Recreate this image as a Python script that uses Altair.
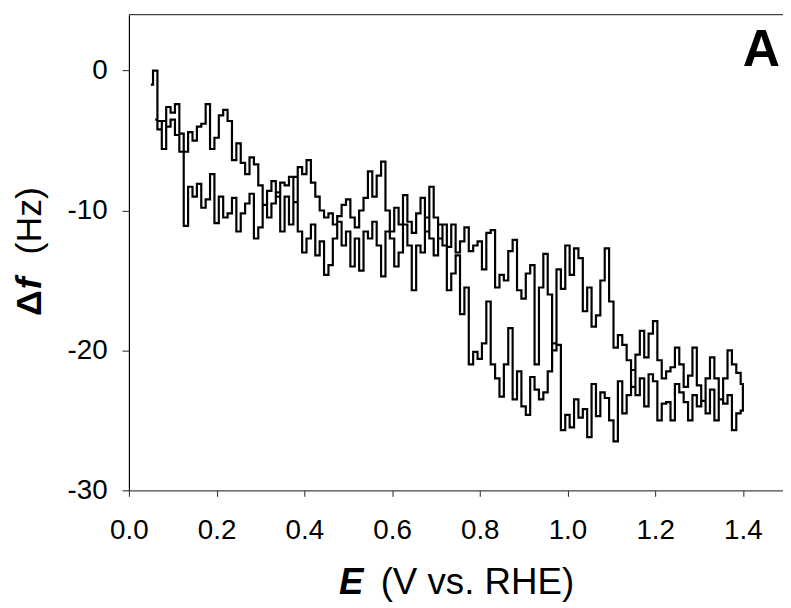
import altair as alt
import pandas as pd

# ---------------- data ----------------
# forward sweep (upper-left -> upper-middle -> lower-right), E = 0.05 ... 1.40 V, step 0.01 V
E_START_FWD = 0.05
E_STEP = 0.01
df_forward = [
    -1.0, 0.0, -3.6, -5.6, -2.6, -3.0, -2.4, -4.5, -5.8, -4.4,
    -5.0, -4.0, -3.8, -2.4, -5.6, -4.8, -3.2, -2.8, -3.6, -6.4,
    -5.2, -6.6, -7.4, -6.2, -6.7, -8.2, -9.6, -8.6, -7.9, -9.0,
    -8.0, -8.2, -7.6, -9.4, -6.9, -7.4, -6.4, -8.0, -9.0, -10.0,
    -10.5, -10.2, -11.0, -10.4, -9.6, -9.2, -10.5, -11.2, -10.0, -9.1,
    -7.2, -9.0, -7.5, -6.5, -10.0, -11.5, -9.8, -11.0, -8.9, -10.8,
    -11.6, -10.2, -9.1, -11.5, -8.3, -10.5, -12.0, -11.0, -12.6, -11.0,
    -13.0, -12.2, -11.2, -12.9, -12.5, -12.2, -14.2, -11.6, -11.4, -15.5,
    -14.6, -15.0, -12.9, -12.1, -15.7, -16.3, -14.5, -13.9, -21.0, -15.5,
    -13.1, -16.0, -20.0, -19.6, -25.7, -24.6, -25.5, -23.5, -24.8, -24.2,
    -26.2, -22.4, -24.7, -23.0, -23.4, -25.0, -26.5, -22.2, -24.5, -23.2,
    -21.4, -23.2, -22.0, -24.0, -21.7, -22.2, -25.0, -23.8, -23.7, -25.0,
    -22.4, -23.0, -23.7, -25.0, -23.2, -24.0, -23.6, -24.5, -22.8, -25.0,
    -23.5, -23.8, -23.2, -25.7, -24.5, -24.3,
]
# reverse sweep, listed for E = 0.06 ... 1.40 V (drawn from 1.40 back to 0.06)
E_START_REV = 0.06
df_reverse = [
    -3.5, -4.2, -3.6, -4.0, -3.5, -4.6, -5.8, -11.1, -8.3, -9.0,
    -8.1, -9.8, -9.2, -7.4, -10.9, -9.0, -10.5, -10.2, -9.1, -11.5,
    -10.2, -9.5, -8.8, -12.0, -11.2, -9.6, -10.5, -9.5, -8.7, -11.5,
    -9.0, -11.0, -7.6, -11.5, -13.0, -12.0, -11.0, -13.2, -12.2, -14.6,
    -13.9, -12.0, -10.8, -12.5, -11.5, -14.0, -12.0, -14.3, -11.5, -12.0,
    -10.8, -12.5, -14.7, -11.5, -12.0, -14.0, -13.0, -11.0, -12.5, -15.7,
    -12.5, -13.0, -10.5, -12.0, -13.2, -11.0, -12.5, -15.7, -14.5, -13.2,
    -17.4, -15.5, -21.0, -20.1, -20.6, -19.5, -16.5, -21.0, -22.0, -23.3,
    -21.0, -18.4, -23.5, -21.5, -24.0, -24.6, -21.9, -22.8, -23.5, -23.0,
    -21.5, -19.5, -14.2, -15.6, -12.5, -14.6, -12.7, -13.4, -17.2, -15.5,
    -18.3, -17.5, -15.0, -12.7, -16.5, -19.8, -18.9, -19.6, -20.7, -22.6,
    -20.3, -18.6, -20.5, -18.8, -17.9, -20.7, -22.0, -21.5, -21.2, -19.8,
    -21.0, -22.6, -21.8, -19.8, -22.5, -23.6, -22.0, -20.5, -22.0, -23.5,
    -22.0, -20.0, -21.0, -21.6, -22.4,
]

X_TICKS = [0.0, 0.2, 0.4, 0.6, 0.8, 1.0, 1.2, 1.4]
Y_TICKS = [-30, -20, -10, 0]
X_DOMAIN = [0.0, 1.4915]
Y_DOMAIN = [-30, 4]

# ---------------- table ----------------
rows = []
for i, v in enumerate(df_forward):
    rows.append({"E": round(E_START_FWD + i * E_STEP, 3), "df": v, "k": len(rows)})
for i in range(len(df_reverse) - 1, -1, -1):
    rows.append({"E": round(E_START_REV + i * E_STEP, 3), "df": df_reverse[i], "k": len(rows)})
data = pd.DataFrame(rows)

W, H = 660, 480
FONT = "Liberation Sans"

line = alt.Chart(data).mark_line(color="black", strokeWidth=2.2, interpolate="step").encode(
    x=alt.X("E:Q", scale=alt.Scale(domain=X_DOMAIN, nice=False, zero=False),
            axis=alt.Axis(values=X_TICKS, labelExpr="format(datum.value, '.1f')", title=None, grid=False,
                          domainColor="#444", domainWidth=1.2, tickColor="#222", tickSize=6,
                          labelFont=FONT, labelFontSize=28, labelColor="black",
                          labelPadding=21, labelFlush=False, labelOverlap=False)),
    y=alt.Y("df:Q", scale=alt.Scale(domain=Y_DOMAIN, nice=False, zero=False),
            axis=alt.Axis(values=Y_TICKS, labelExpr="'' + datum.value", title=None, grid=False,
                          domainColor="black", domainWidth=1.2, tickColor="#222", tickSize=7,
                          labelFont=FONT, labelFontSize=28, labelColor="black",
                          labelPadding=15, labelFlush=False, labelOverlap=False)),
    order="k:Q",
)

one = pd.DataFrame({"a": [0]})

top_line = alt.Chart(one).mark_rule(color="#444", strokeWidth=1.2).encode(
    x=alt.value(0), x2=alt.value(W), y=alt.value(0))

def txt(text, x, y, size, weight="normal", style="normal", align="left", angle=0):
    return alt.Chart(one).mark_text(
        text=text, font=FONT, fontSize=size, fontWeight=weight, fontStyle=style,
        align=align, baseline="alphabetic", angle=angle, color="black",
    ).encode(x=alt.value(x), y=alt.value(y))

xt1 = txt("E", 212, 585, 37, weight="bold", style="italic")
xt2 = txt("(V vs. RHE)", 254, 585, 37)
yt1 = txt("Δ", -89, 304, 36, weight="bold", angle=270)
yt2 = txt("f", -89, 277, 36, weight="bold", style="italic", angle=270)
yt3 = txt("(Hz)", -89, 242, 36, angle=270)
panel = txt("A", 657, 52, 52, weight="bold", align="right")

chart = alt.layer(line, top_line, xt1, xt2, yt1, yt2, yt3, panel).properties(
    width=W, height=H,
    padding={"left": 122, "top": 4, "right": 0, "bottom": 116},
    autosize=alt.AutoSizeParams(type="none"),
).configure_view(stroke=None)

chart.save("out.html", embed_options={"renderer": "svg", "actions": False})
